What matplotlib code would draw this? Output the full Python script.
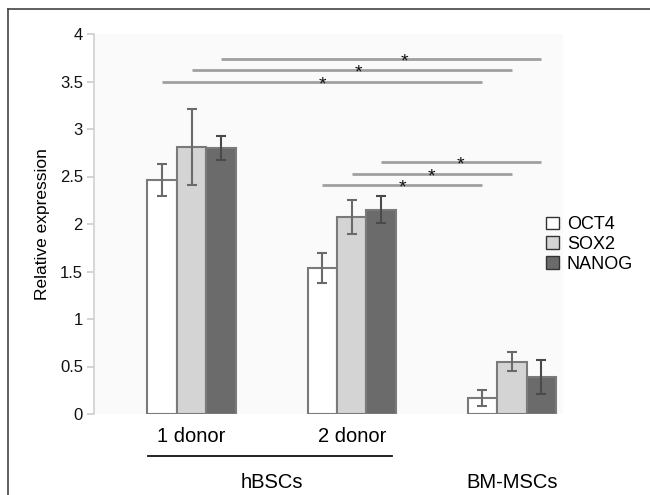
import numpy as np
import matplotlib.pyplot as plt
import matplotlib.transforms as mtransforms
from matplotlib.lines import Line2D

plt.rcParams['font.family'] = ['Liberation Sans', 'DejaVu Sans']

groups = ['1 donor', '2 donor', '']
supergroups = ['hBSCs', 'BM-MSCs']
genes = ['OCT4', 'SOX2', 'NANOG']
oct4 = [2.46, 1.54, 0.17]
sox2 = [2.81, 2.07, 0.55]
nanog = [2.80, 2.15, 0.39]
oct4_err = [0.17, 0.16, 0.085]
sox2_err = [0.40, 0.18, 0.10]
nanog_err = [0.13, 0.14, 0.18]

# significance lines: (group a, group b, gene index, y, star x)
comparisons = [
    (0, 2, 0, 3.50, 0.82),
    (0, 2, 1, 3.62, 1.04),
    (0, 2, 2, 3.74, 1.33),
    (1, 2, 0, 2.41, 1.32),
    (1, 2, 1, 2.53, 1.50),
    (1, 2, 2, 2.65, 1.68),
]

colors = ['#ffffff', '#d4d4d4', '#6b6b6b']
errcolors = ['#6a6a6a', '#6a6a6a', '#4a4a4a']

fig = plt.figure(figsize=(6.5, 4.95), dpi=100)
ax = fig.add_axes([94/650, 1 - 414/495, 469/650, 380/495])
ax.set_facecolor('#fafafa')

x = np.arange(len(groups))
width = 0.184
series = [oct4, sox2, nanog]
errs = [oct4_err, sox2_err, nanog_err]
handles = []
for i, (vals, err) in enumerate(zip(series, errs)):
    pos = x + (i - 1) * width
    b = ax.bar(pos, vals, width, color=colors[i], edgecolor='#7a7a7a',
               linewidth=1.5, label=genes[i], zorder=2)
    ax.errorbar(pos, vals, yerr=err, fmt='none', ecolor=errcolors[i],
                elinewidth=1.5, capsize=3.5, capthick=1.5, zorder=3)
    handles.append(b)

for ga, gb, gi, yy, sx in comparisons:
    xa = ga + (gi - 1) * width
    xb = gb + (gi - 1) * width
    ax.plot([xa, xb], [yy, yy], color='#a0a0a0', lw=2, solid_capstyle='butt', zorder=1)
    ax.text(sx, yy - 0.08, '*', ha='center', va='baseline', fontsize=14, color='#111111')

ax.set_xlim(-0.61, 2.32)
ax.set_ylim(0, 4)
ax.set_yticks([0, 0.5, 1, 1.5, 2, 2.5, 3, 3.5, 4])
ax.set_yticklabels(['0', '0.5', '1', '1.5', '2', '2.5', '3', '3.5', '4'])
ax.tick_params(axis='y', colors='#cccccc', labelcolor='#111111', labelsize=12,
               length=5, width=1.2, pad=3)
ax.set_xticks([])
for s in ['top', 'right', 'bottom']:
    ax.spines[s].set_visible(False)
ax.spines['left'].set_color('#d0d0d0')
ax.spines['left'].set_linewidth(1.2)
ax.set_ylabel('Relative expression', fontsize=12.5, labelpad=7)

trans = mtransforms.blended_transform_factory(ax.transData, ax.transAxes)
for gx, name in zip(x, groups):
    if name:
        ax.text(gx, -0.058, name, transform=trans, ha='center', va='center', fontsize=14.5)
ax.plot([-0.27, 1.25], [-0.11, -0.11], transform=trans, color='#111111', lw=1.3, clip_on=False)
ax.text(0.5, -0.179, supergroups[0], transform=trans, ha='center', va='center', fontsize=14.5)
ax.text(2, -0.179, supergroups[1], transform=trans, ha='center', va='center', fontsize=14.5)

leg = fig.legend(handles=handles, labels=genes, loc='upper left',
                 bbox_to_anchor=(539/650, 1 - 209/495), frameon=False,
                 fontsize=13, handlelength=0.7, handleheight=0.7,
                 handletextpad=0.45, labelspacing=0.15, borderaxespad=0)
for p in leg.get_patches():
    p.set_edgecolor('#333333')
    p.set_linewidth(1.0)

# outer frame, cut at the right and bottom edge
fig.add_artist(Line2D([8/650, 1], [1 - 9/495, 1 - 9/495], color='#444444', lw=1.2))
fig.add_artist(Line2D([8/650, 8/650], [0, 1 - 9/495], color='#444444', lw=1.2))

fig.savefig('out.png', dpi=100)
